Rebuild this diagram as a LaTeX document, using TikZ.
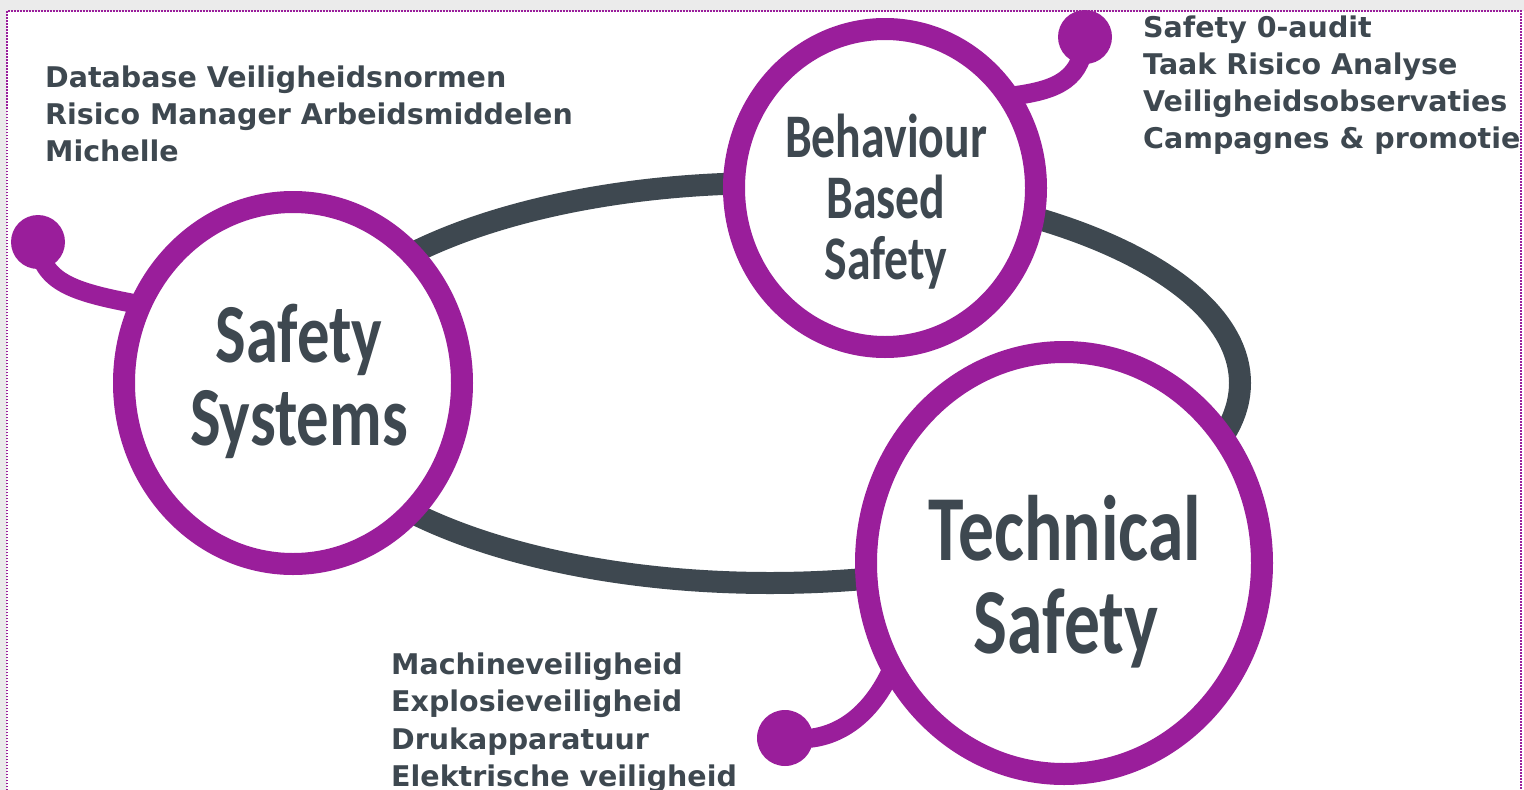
\documentclass[tikz,border=0pt]{standalone}
\usepackage{fontspec}
\newfontfamily\listfont{DejaVu Sans}
\newfontfamily\ringfont[FakeStretch=0.77]{Carlito}
\usetikzlibrary{shapes.geometric,calc}
\definecolor{mag}{HTML}{9A1E9B}
\definecolor{slate}{HTML}{3E4850}
\definecolor{margin}{HTML}{EBEBEB}
\pgfdeclarelayer{under}
\pgfsetlayers{under,main}
\begin{document}
\begin{tikzpicture}[x=1pt,y=-1pt,
  ring/.style={ellipse, draw=mag, line width=22pt, fill=white, inner sep=0pt},
  stem/.style={draw=mag, line width=19pt},
  knob/.style={circle, fill=mag, inner sep=0pt, minimum size=54pt},
  loopline/.style={draw=slate, line width=22pt},
  listtxt/.style={anchor=base west, inner sep=0pt, text=slate, font=\listfont\bfseries\fontsize{28.5pt}{37pt}\selectfont},
  ringtxt/.style={anchor=base, inner sep=0pt, text=slate},
  frame/.style={draw=mag, line width=1.5pt, dash pattern=on 1.5pt off 1.5pt}]
\useasboundingbox (0,0) rectangle (1524,790);
\begin{pgfonlayer}{under}
\fill[margin] (0,0) rectangle (1524,790);
\fill[white] (7,11) rectangle (1524,790);
\draw[frame] (7,790) -- (7,11) -- (1521,11) -- (1521,790);
\end{pgfonlayer}

% rings
\node[ring, minimum width=338pt, minimum height=362pt] (ss) at (293,383) {};
\node[ring, minimum width=302pt, minimum height=318pt] (bbs) at (885,188) {};
\node[ring, minimum width=396pt, minimum height=422pt] (ts) at (1064,563) {};

% knobs
\node[knob] (k1) at (38,242) {};
\node[knob] (k2) at (1085,37) {};
\node[knob,minimum size=56pt] (k3) at (785,738) {};

\path ($(ss.center)!0.95!(ss.153)$) coordinate (s1e);
\path ($(bbs.center)!0.95!(bbs.36)$) coordinate (s2e);
\path ($(ts.center)!0.96!(ts.212)$) coordinate (s3e);

\begin{pgfonlayer}{under}
% gray loop
\coordinate (loopc) at (770,383);
\draw[loopline] (loopc) ellipse [x radius=470, y radius=200];
% stems
\draw[stem] (k1.center) .. controls (42,282) and (72,292) .. (s1e);
\draw[stem] (k2.center) .. controls (1082,78) and (1060,90) .. (s2e);
\draw[stem] (k3.center) .. controls (838,745) and (872,712) .. (s3e);
\end{pgfonlayer}

% ring texts
\node[ringtxt, font=\ringfont\bfseries\fontsize{84pt}{84pt}\selectfont] (ss1) at (299,362) {Safety};
\node[ringtxt, font=\ringfont\bfseries\fontsize{84pt}{84pt}\selectfont] (ss2) at (299,445) {Systems};
\node[ringtxt, font=\ringfont\bfseries\fontsize{62pt}{62pt}\selectfont] (bb1) at (886,157) {Behaviour};
\node[ringtxt, font=\ringfont\bfseries\fontsize{62pt}{62pt}\selectfont] (bb2) at (886,218) {Based};
\node[ringtxt, font=\ringfont\bfseries\fontsize{62pt}{62pt}\selectfont] (bb3) at (886,279) {Safety};
\node[ringtxt, font=\ringfont\bfseries\fontsize{93pt}{93pt}\selectfont] (ts1) at (1065,560) {Technical};
\node[ringtxt, font=\ringfont\bfseries\fontsize{93pt}{93pt}\selectfont] (ts2) at (1066,653) {Safety};

% lists
\node[listtxt] (a1) at (45,87) {Database Veiligheidsnormen};
\node[listtxt] (a2) at (45,124) {Risico Manager Arbeidsmiddelen};
\node[listtxt] (a3) at (45,161) {Michelle};
\node[listtxt] (b1) at (1143,37) {Safety 0-audit};
\node[listtxt] (b2) at (1143,74) {Taak Risico Analyse};
\node[listtxt] (b3) at (1143,111) {Veiligheidsobservaties};
\node[listtxt] (b4) at (1143,148) {Campagnes \& promotie};
\node[listtxt] (c1) at (391,674) {Machineveiligheid};
\node[listtxt] (c2) at (391,711) {Explosieveiligheid};
\node[listtxt] (c3) at (391,749) {Drukapparatuur};
\node[listtxt] (c4) at (391,786) {Elektrische veiligheid};
\end{tikzpicture}
\end{document}
